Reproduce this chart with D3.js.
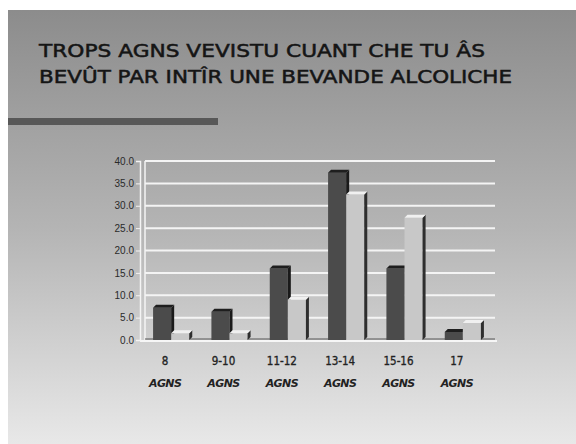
<!DOCTYPE html>
<html><head><meta charset="utf-8">
<script src="https://cdn.jsdelivr.net/npm/d3@7"></script>
<style>html,body{margin:0;padding:0;background:#fff;}svg{display:block;}</style>
</head><body>
<script>
const titleLines = ["TROPS AGNS VEVISTU CUANT CHE TU ÂS", "BEVÛT PAR INTÎR UNE BEVANDE ALCOLICHE"];
const categories = ["8", "9-10", "11-12", "13-14", "15-16", "17"];
const categoryUnit = "AGNS";
const seriesDark = [7.2, 6.3, 16.0, 37.4, 16.0, 1.8];
const seriesLight = [1.5, 1.5, 9.0, 32.5, 27.3, 3.8];
const yTicks = [0, 5, 10, 15, 20, 25, 30, 35, 40];

const W = 576, H = 444;
const svg = d3.select("body").append("svg").attr("width", W).attr("height", H);
const defs = svg.append("defs");
const g = defs.append("linearGradient").attr("id","bg").attr("x1",0).attr("y1",0).attr("x2",0).attr("y2",1);
g.append("stop").attr("offset","0%").attr("stop-color","#8c8c8c");
g.append("stop").attr("offset","50%").attr("stop-color","#b4b4b4");
g.append("stop").attr("offset","100%").attr("stop-color","#e8e8e8");

svg.append("rect").attr("x",8).attr("y",10).attr("width",W-8).attr("height",H-10).attr("fill","url(#bg)");

// title
svg.append("g").selectAll("text").data(titleLines).join("text")
  .attr("x",39).attr("y",(d,i)=>57+i*26)
  .attr("font-family","DejaVu Sans, sans-serif").attr("font-size",17.5)
  .attr("fill","#151515").attr("stroke","#151515").attr("stroke-width",0.5)
  .attr("textLength",(d,i)=>i===0?446:473).attr("lengthAdjust","spacingAndGlyphs")
  .text(d=>d);

// underline bar
svg.append("rect").attr("x",8).attr("y",118).attr("width",210).attr("height",7).attr("fill","#585858");

const y = d3.scaleLinear().domain([0,40]).range([340,161]);
const x0 = d3.scaleBand().domain(categories).range([142,492]).paddingInner(0.38).paddingOuter(0.19);
const x1 = d3.scaleBand().domain(["dark","light"]).range([0, x0.bandwidth()]);
const depth = 3;

// back wall gridlines
const grid = svg.append("g");
grid.selectAll("line").data(yTicks.slice(1)).join("line")
  .attr("x1",145).attr("x2",495)
  .attr("y1",d=>y(d)).attr("y2",d=>y(d))
  .attr("stroke","#f4f4f4").attr("stroke-width",2);
grid.append("line").attr("x1",145).attr("x2",145).attr("y1",y(40)).attr("y2",y(0)).attr("stroke","#f4f4f4").attr("stroke-width",1.5);
// floor
svg.append("line").attr("x1",140).attr("x2",497).attr("y1",y(0)+1).attr("y2",y(0)+1).attr("stroke","#f6f6f6").attr("stroke-width",2);
svg.append("line").attr("x1",145).attr("x2",495).attr("y1",y(0)-1).attr("y2",y(0)-1).attr("stroke","#555").attr("stroke-width",1);

// y axis
const yAxis = svg.append("g").attr("transform","translate(140,0)")
  .call(d3.axisLeft(y).tickValues(yTicks).tickFormat(d3.format(".1f")).tickSize(4));
yAxis.select(".domain").attr("stroke","#f4f4f4").attr("stroke-width",1.5);
yAxis.selectAll(".tick line").attr("stroke","#f4f4f4");
yAxis.selectAll(".tick text").attr("font-family","Liberation Sans Narrow, Liberation Sans, sans-serif")
  .attr("font-size",10).attr("fill","#2a2a2a").attr("x",-6);

// bars
const series = [
  {key:"dark", vals:seriesDark, front:"#4b4b4b", top:"#1e1e1e", side:"#1a1a1a"},
  {key:"light", vals:seriesLight, front:"#c8c8c8", top:"#f0f0f0", side:"#2e2e2e"}
];
const bars = svg.append("g");
series.forEach(s=>{
  const gs = bars.append("g");
  categories.forEach((c,i)=>{
    const bx = x0(c)+x1(s.key), bw = x1.bandwidth(), by = y(s.vals[i]), b0 = y(0);
    gs.append("rect").attr("x",bx).attr("y",by).attr("width",bw).attr("height",b0-by).attr("fill",s.front);
    gs.append("path").attr("d",`M${bx+bw},${by}L${bx+bw+depth},${by-depth}L${bx+bw+depth},${b0-depth}L${bx+bw},${b0}Z`).attr("fill",s.side);
    gs.append("path").attr("d",`M${bx},${by}L${bx+depth},${by-depth}L${bx+bw+depth},${by-depth}L${bx+bw},${by}Z`).attr("fill",s.top);
  });
});

// x labels
const xl = svg.append("g");
categories.forEach(c=>{
  const cx = x0(c)+x0.bandwidth()/2-6;
  xl.append("text").attr("x",cx).attr("y",365).attr("text-anchor","middle")
    .attr("font-family","DejaVu Sans Condensed, DejaVu Sans, sans-serif").attr("font-size",11.5)
    .attr("fill","#222").attr("stroke","#222").attr("stroke-width",0.3).text(c);
  xl.append("text").attr("x",cx).attr("y",387).attr("text-anchor","middle")
    .attr("font-family","DejaVu Sans, sans-serif").attr("font-style","italic").attr("font-weight","bold").attr("font-size",11)
    .attr("letter-spacing",-0.6).attr("fill","#222").text(categoryUnit);
});
</script>
</body></html>
